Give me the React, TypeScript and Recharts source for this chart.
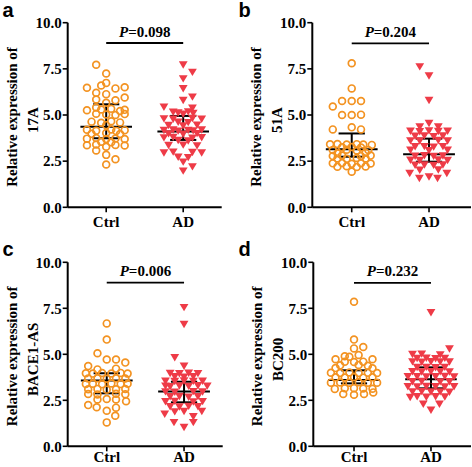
import React from 'react';
import { ScatterChart, Scatter, XAxis, YAxis, ReferenceLine } from 'recharts';

const groups = ['Ctrl', 'AD'];
const yTicks = [0, 2.5, 5, 7.5, 10];
const panelLetters = ['a', 'b', 'c', 'd'];
const geneNames = ['17A', '51A', 'BACE1-AS', 'BC200'];
const pValues = ['0.098', '0.204', '0.006', '0.232'];
const pLineLevel = [8.9, 8.88, 8.9, 8.88];

const ctrlMedian = [4.37, 3.14, 3.57, 3.6];
const ctrlQ1 = [3.74, 2.74, 2.88, 3.42];
const ctrlQ3 = [5.58, 4.0, 3.97, 4.13];
const adMedian = [4.1, 2.87, 2.98, 3.64];
const adQ1 = [3.65, 2.47, 2.39, 3.15];
const adQ3 = [4.95, 3.72, 3.51, 4.29];

// [horizontal jitter within the group, value]
const aCtrl: [number, number][] = [
  [-0.13, 7.72], [0, 7.25], [-0.25, 6.48], [-0.065, 6.6], [0, 6.74], [0.12, 6.44], [0.24, 6.5],
  [-0.13, 6.2], [0, 6.13], [0.24, 5.95], [-0.13, 5.84], [0.12, 5.8], [0, 5.66],
  [-0.25, 5.26], [-0.13, 5.4], [-0.065, 5.3], [0.065, 5.34], [0.18, 5.22], [0.24, 5.28],
  [-0.13, 5.07], [0, 5.03], [0.12, 5.0], [0.24, 5.05],
  [-0.19, 4.64], [-0.065, 4.58], [0.065, 4.66], [0.18, 4.6], [0, 4.45],
  [-0.25, 4.2], [-0.13, 4.15], [0.065, 4.22], [0.13, 4.14], [0.24, 4.18],
  [-0.19, 3.98], [0, 4.02], [0.18, 3.97],
  [-0.25, 3.72], [-0.13, 3.75], [0, 3.7], [0.12, 3.73], [0.24, 3.7],
  [-0.065, 3.55], [0.065, 3.52],
  [-0.25, 3.36], [-0.13, 3.4], [0.12, 3.38], [0.24, 3.35], [0, 3.28],
  [-0.13, 3.08], [0, 2.84], [0.12, 2.6], [0, 2.32],
];
const aAd: [number, number][] = [
  [0, 7.72], [0.12, 7.32], [0, 6.97], [0, 6.43], [0.12, 5.98], [0, 5.8],
  [-0.25, 5.43], [0.12, 5.38],
  [-0.13, 5.16], [-0.065, 5.12], [0.065, 5.18], [0.13, 5.1], [0, 5.05],
  [-0.25, 4.8], [-0.13, 4.78], [0.12, 4.82], [0.24, 4.78],
  [-0.065, 4.62], [0.065, 4.6],
  [-0.19, 4.44], [0, 4.42], [0.18, 4.46],
  [-0.25, 4.17], [-0.13, 4.2], [-0.065, 4.14], [0.065, 4.18], [0.13, 4.15], [0.24, 4.2],
  [-0.19, 3.99], [0, 3.97], [0.18, 4.0],
  [-0.25, 3.77], [-0.13, 3.8], [0.12, 3.75], [0.24, 3.78],
  [-0.065, 3.63], [0.065, 3.6],
  [-0.19, 3.36], [0, 3.38], [0.18, 3.34],
  [-0.25, 2.95], [-0.13, 3.0], [0.12, 2.98], [0.24, 2.95],
  [-0.065, 2.72], [0.065, 2.7],
  [0, 2.46], [0.12, 2.2], [0, 1.97],
];
const bCtrl: [number, number][] = [
  [0, 7.8], [0, 6.44], [-0.125, 5.76], [0, 5.76], [0.12, 5.76], [-0.245, 5.46],
  [-0.125, 5.0], [0, 5.0], [0.12, 5.02], [0, 4.33], [-0.245, 4.22], [0.12, 4.22],
  [-0.28, 3.41], [-0.185, 3.43], [-0.065, 3.4], [0.065, 3.42], [0.15, 3.4], [0.26, 3.38],
  [-0.125, 3.25], [0, 3.27], [0.12, 3.24],
  [-0.245, 3.1], [-0.065, 3.12], [0.065, 3.08], [0.215, 3.1],
  [-0.185, 2.93], [0.18, 2.95],
  [-0.245, 2.78], [-0.125, 2.8], [0.12, 2.77], [0.245, 2.8],
  [-0.185, 2.65], [-0.065, 2.63], [0.065, 2.67], [0.18, 2.64],
  [-0.245, 2.38], [-0.125, 2.4], [0, 2.36], [0.12, 2.39], [0.245, 2.37],
  [-0.185, 2.2], [-0.065, 2.22], [0.065, 2.18], [0.18, 2.21],
  [0, 1.93],
];
const bAd: [number, number][] = [
  [-0.12, 7.62], [0, 7.12], [0, 5.8], [0, 4.55], [-0.12, 4.36], [0.12, 4.36],
  [-0.24, 4.13], [-0.12, 4.1], [0, 4.15], [0.12, 4.12], [0.24, 4.13],
  [-0.18, 3.86], [-0.06, 3.88], [0.06, 3.84], [0.18, 3.87],
  [-0.24, 3.61], [-0.12, 3.6], [0.12, 3.63], [0.24, 3.6],
  [-0.18, 3.29], [-0.06, 3.3], [0.06, 3.27], [0.18, 3.3],
  [-0.24, 3.1], [0, 3.08], [0.24, 3.1],
  [-0.18, 2.78], [-0.06, 2.8], [0.06, 2.77], [0.18, 2.79],
  [-0.24, 2.56], [-0.12, 2.55], [0.12, 2.57], [0.24, 2.55],
  [-0.18, 2.29], [-0.06, 2.3], [0.06, 2.28], [0.18, 2.3],
  [-0.12, 2.02], [0.12, 2.03],
  [-0.25, 1.84], [0.23, 1.84],
  [-0.125, 1.57], [0, 1.65], [0.11, 1.57],
];
const cCtrl: [number, number][] = [
  [0, 6.68], [0, 5.8], [-0.12, 5.06], [0, 4.72], [0.12, 4.72], [0.24, 4.55], [-0.24, 4.36], [-0.12, 4.18], [0.12, 4.22],
  [-0.27, 3.97], [-0.18, 3.95], [-0.06, 3.98], [0.06, 3.96], [0.18, 3.99], [0.27, 3.95],
  [-0.24, 3.69], [-0.12, 3.7], [0, 3.67], [0.12, 3.7], [0.24, 3.68],
  [-0.27, 3.39], [-0.18, 3.4], [-0.06, 3.37], [0.06, 3.41], [0.18, 3.38], [0.27, 3.4],
  [-0.24, 3.1], [-0.12, 3.12], [0, 3.08], [0.12, 3.1], [0.24, 3.11],
  [-0.24, 2.84], [-0.12, 2.82], [0.12, 2.85], [0.24, 2.83],
  [-0.12, 2.55], [0, 2.57], [0.12, 2.54], [0.25, 2.45],
  [-0.24, 2.24], [0.12, 2.1], [-0.13, 2.12],
  [0, 1.93], [0.11, 1.66], [0, 1.3],
];
const cAd: [number, number][] = [
  [0, 7.55], [0, 6.63], [-0.12, 4.82], [0, 4.36],
  [-0.18, 3.97], [-0.06, 3.95], [0.06, 3.98], [0.18, 3.96],
  [-0.12, 3.79], [0, 3.77], [0.12, 3.8],
  [-0.24, 3.55], [-0.12, 3.53], [0, 3.56], [0.12, 3.54], [0.24, 3.55],
  [-0.24, 3.28], [-0.18, 3.25], [-0.06, 3.29], [0.06, 3.27], [0.18, 3.3], [0.3, 3.28],
  [-0.24, 2.97], [-0.12, 2.95], [0.12, 2.98], [0.24, 2.96],
  [-0.18, 2.7], [-0.06, 2.72], [0.06, 2.68], [0.18, 2.71],
  [-0.24, 2.43], [-0.12, 2.45], [0.12, 2.42], [0.24, 2.44],
  [-0.18, 2.16], [-0.06, 2.15], [0.06, 2.18], [0.18, 2.16],
  [-0.12, 1.88], [0, 1.9], [0.23, 1.9],
  [-0.25, 1.75], [0.12, 1.62],
  [-0.13, 1.3], [0.12, 1.3],
  [0, 1.03],
];
const dCtrl: [number, number][] = [
  [0, 7.86], [0, 5.8], [0, 5.32], [0.12, 5.4], [-0.06, 4.87], [0.06, 4.96], [-0.12, 4.89], [-0.24, 4.73], [0.24, 4.73],
  [-0.12, 4.6], [0, 4.58], [0.12, 4.6],
  [-0.18, 4.4], [0.06, 4.42], [0.18, 4.38],
  [-0.24, 4.25], [0.24, 4.24],
  [-0.3, 4.0], [-0.18, 3.98], [-0.06, 4.01], [0.06, 3.99], [0.18, 4.0], [0.3, 3.98],
  [-0.24, 3.75], [-0.12, 3.74], [0, 3.76], [0.12, 3.73], [0.24, 3.75],
  [-0.3, 3.46], [-0.18, 3.47], [-0.06, 3.45], [0.06, 3.48], [0.18, 3.46], [0.3, 3.45],
  [-0.25, 3.12], [-0.12, 3.15], [0, 3.16], [0.12, 3.14], [0.24, 3.13],
  [-0.14, 2.84], [0, 2.8], [0.13, 2.84], [0.25, 2.93],
];
const dAd: [number, number][] = [
  [0, 7.27], [0.24, 5.3],
  [-0.24, 5.0], [-0.12, 5.02], [0.12, 4.98],
  [-0.18, 4.78], [-0.06, 4.8], [0.06, 4.77], [0.18, 4.79],
  [-0.24, 4.6], [-0.12, 4.58], [0, 4.61], [0.12, 4.6], [0.24, 4.59],
  [-0.18, 4.29], [-0.06, 4.3], [0.06, 4.28], [0.18, 4.3],
  [-0.24, 4.06], [-0.12, 4.05], [0, 4.07], [0.12, 4.06], [0.24, 4.05],
  [-0.3, 3.79], [-0.18, 3.8], [-0.06, 3.78], [0.06, 3.79], [0.18, 3.81], [0.3, 3.78],
  [-0.24, 3.52], [-0.12, 3.53], [0.12, 3.51], [0.24, 3.52],
  [-0.3, 3.25], [-0.18, 3.24], [-0.06, 3.26], [0.06, 3.25], [0.18, 3.23], [0.3, 3.25],
  [-0.24, 2.97], [-0.12, 2.98], [0, 2.96], [0.12, 2.97], [0.24, 2.95],
  [-0.27, 2.66], [-0.18, 2.7], [-0.06, 2.68], [0.06, 2.7], [0.18, 2.69],
  [-0.1, 2.3], [0.11, 2.3],
  [0, 1.97],
];

const ctrlSets = [aCtrl, bCtrl, cCtrl, dCtrl];
const adSets = [aAd, bAd, cAd, dAd];

const ORANGE = '#F39322';
const RED = '#EE3B47';
const SERIF = '"Liberation Serif", "Times New Roman", Times, serif';
const SANS = '"Liberation Sans", Arial, Helvetica, sans-serif';

const layouts = [
  { left: 0, top: 0, width: 236, height: 234, mt: 22.7, mr: 14.3, yWidth: 67.7, xHeight: 26.7, tm: 3.75, domain: [0.5, 2.5], letterY: 16.7 },
  { left: 236, top: 0, width: 236, height: 234, mt: 22.7, mr: 1, yWidth: 76.3, xHeight: 26.7, tm: 3.75, domain: [0.49, 2.543], letterY: 17 },
  { left: 0, top: 234, width: 236, height: 233, mt: 28.3, mr: 13.3, yWidth: 67.7, xHeight: 20.7, tm: 0.5, domain: [0.495, 2.5], letterY: 21.7 },
  { left: 236, top: 234, width: 236, height: 233, mt: 28.3, mr: 1, yWidth: 77.3, xHeight: 20.7, tm: 0.5, domain: [0.471, 2.52], letterY: 21.7 },
];

const toPoints = (pos: number, set: [number, number][]) => set.map(([j, v]) => ({ x: pos + j, y: v }));

const CircleShape = (props: any) => {
  const { cx, cy } = props;
  if (cx == null || cy == null) return null;
  return <circle cx={cx} cy={cy} r={3.4} fill="none" stroke={ORANGE} strokeWidth={1.7} />;
};

const TriangleShape = (props: any) => {
  const { cx, cy } = props;
  if (cx == null || cy == null) return null;
  const w = 4.4;
  return (
    <polygon
      points={`${cx - w},${cy - 3.5} ${cx + w},${cy - 3.5} ${cx},${cy + 3.9}`}
      fill={RED}
      stroke="none"
    />
  );
};

const lineStyle = { stroke: '#000', strokeWidth: 2 };

function statLines(pos: number, med: number, q1: number, q3: number, key: string) {
  return [
    <ReferenceLine key={key + 'm'} segment={[{ x: pos - 0.335, y: med }, { x: pos + 0.335, y: med }]} {...lineStyle} ifOverflow="visible" />,
    <ReferenceLine key={key + 'v'} segment={[{ x: pos, y: q1 }, { x: pos, y: q3 }]} {...lineStyle} ifOverflow="visible" />,
    <ReferenceLine key={key + 'h'} segment={[{ x: pos - 0.17, y: q3 }, { x: pos + 0.17, y: q3 }]} {...lineStyle} ifOverflow="visible" />,
    <ReferenceLine key={key + 'l'} segment={[{ x: pos - 0.17, y: q1 }, { x: pos + 0.17, y: q1 }]} {...lineStyle} ifOverflow="visible" />,
  ];
}

function Panel({ i }: { i: number }) {
  const L = layouts[i];
  const ctrlData = toPoints(1, ctrlSets[i]);
  const adData = toPoints(2, adSets[i]);
  const tickStyle = { fill: '#000', fontSize: 15, fontWeight: 'bold', fontFamily: SERIF };

  const yLabel = (p: any) => {
    const vb = p.viewBox || {};
    const axisX = (vb.x || 0) + (vb.width || 0);
    const cy = (vb.y || 0) + (vb.height || 0) / 2;
    const x1 = axisX - 51;
    const x2 = axisX - 30;
    return (
      <g>
        <text x={2.5} y={L.letterY} fontFamily={SANS} fontWeight="bold" fontSize={20} fill="#000">
          {panelLetters[i]}
        </text>
        <text
          transform={`translate(${x1},${cy + 2}) rotate(-90)`}
          textAnchor="middle"
          fontFamily={SERIF}
          fontWeight="bold"
          fontSize={15}
          fill="#000"
        >
          Relative expression of
        </text>
        <text
          transform={`translate(${x2},${cy + 5}) rotate(-90)`}
          textAnchor="middle"
          fontFamily={SERIF}
          fontWeight="bold"
          fontSize={15}
          fill="#000"
        >
          {geneNames[i]}
        </text>
      </g>
    );
  };

  const pLabel = (p: any) => {
    const vb = p.viewBox || {};
    const cx = (vb.x || 0) + (vb.width || 0) / 2;
    const y = (vb.y || 0) - 6.5;
    return (
      <text x={cx} y={y} textAnchor="middle" fontFamily={SERIF} fontWeight="bold" fontSize={15} fill="#000">
        <tspan fontStyle="italic">P</tspan>
        <tspan>={pValues[i]}</tspan>
      </text>
    );
  };

  return (
    <div style={{ position: 'absolute', left: L.left, top: L.top, width: L.width, height: L.height }}>
      <ScatterChart
        width={L.width}
        height={L.height}
        margin={{ top: L.mt, right: L.mr, bottom: 0, left: 0 }}
        style={{ overflow: 'visible' }}
      >
        <XAxis
          type="number"
          dataKey="x"
          domain={L.domain}
          ticks={[1, 2]}
          allowDataOverflow
          tickFormatter={(v: number) => groups[Math.round(v) - 1] ?? ''}
          height={L.xHeight}
          tickSize={5}
          tickMargin={L.tm}
          axisLine={{ stroke: '#000', strokeWidth: 2 }}
          tickLine={{ stroke: '#000', strokeWidth: 1.6 }}
          tick={tickStyle}
          interval={0}
        />
        <YAxis
          type="number"
          dataKey="y"
          domain={[0, 10]}
          ticks={yTicks}
          allowDataOverflow
          tickFormatter={(v: number) => v.toFixed(1)}
          width={L.yWidth}
          tickSize={5}
          tickMargin={1}
          axisLine={{ stroke: '#000', strokeWidth: 2 }}
          tickLine={{ stroke: '#000', strokeWidth: 1.6 }}
          tick={tickStyle}
          interval={0}
          label={{ content: yLabel }}
        />
        <Scatter data={ctrlData} shape={CircleShape} isAnimationActive={false} />
        <Scatter data={adData} shape={TriangleShape} isAnimationActive={false} />
        {statLines(1, ctrlMedian[i], ctrlQ1[i], ctrlQ3[i], 'c')}
        {statLines(2, adMedian[i], adQ1[i], adQ3[i], 'a')}
        <ReferenceLine
          segment={[{ x: 1, y: pLineLevel[i] }, { x: 2, y: pLineLevel[i] }]}
          stroke="#000"
          strokeWidth={1.8}
          ifOverflow="visible"
          label={{ content: pLabel }}
        />
      </ScatterChart>
    </div>
  );
}

export default function App() {
  return (
    <div style={{ position: 'absolute', left: 0, top: 0, width: 472, height: 467, background: '#fff', overflow: 'hidden' }}>
      {[0, 1, 2, 3].map((i) => (
        <Panel key={i} i={i} />
      ))}
    </div>
  );
}
